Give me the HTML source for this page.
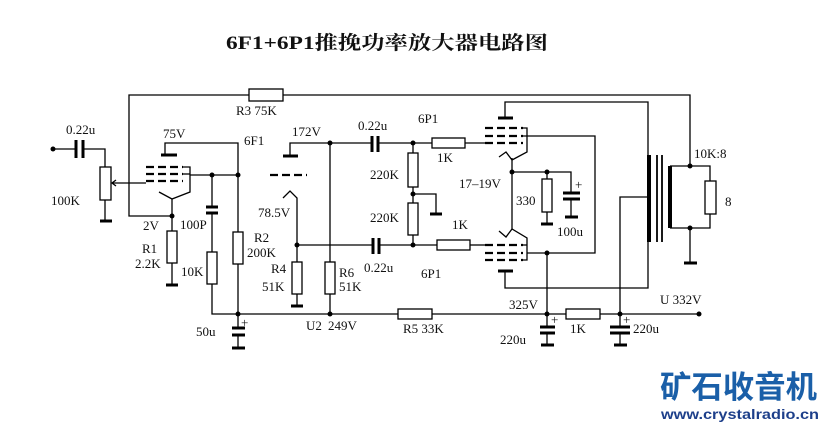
<!DOCTYPE html>
<html><head><meta charset="utf-8"><style>
html,body{margin:0;padding:0;background:#fff;}
svg{display:block;}
text{font-family:"Liberation Serif","Noto Serif CJK SC",serif;font-size:13px;fill:#111;}
</style></head><body>
<svg width="827" height="429" viewBox="0 0 827 429" xmlns="http://www.w3.org/2000/svg">
<rect width="827" height="429" fill="#fff"/>
<text x="226" y="49" style="font-size:19px;font-weight:bold" textLength="322" lengthAdjust="spacingAndGlyphs">6F1+6P1推挽功率放大器电路图</text>
<g stroke="#000" stroke-width="1.3" fill="none">
<polyline points="172,216 129,216 129,95 690,95 690,166"/>
<line x1="53" y1="149" x2="76" y2="149"/><polyline points="83,149 105,149 105,167"/>
<line x1="105" y1="200" x2="105" y2="221"/>
<line x1="112" y1="183" x2="146" y2="183"/><polyline points="116,180 112,183 116,186"/>
<polyline points="165,155 165,143 238,143 238,232"/>
<polyline points="183,167 190,167 190,192 172,199 159,192"/>
<line x1="183" y1="174" x2="190" y2="174"/>
<line x1="190" y1="175" x2="238" y2="175"/>
<line x1="172" y1="199" x2="172" y2="231"/><line x1="172" y1="263" x2="172" y2="285"/>
<line x1="212" y1="175" x2="212" y2="207"/><line x1="212" y1="213" x2="212" y2="252"/>
<polyline points="212,284 212,314 699,314"/>
<line x1="238" y1="264" x2="238" y2="328"/><line x1="238" y1="335" x2="238" y2="348"/>
<polyline points="290,156 290,143 330,143 330,262"/>
<line x1="330" y1="294" x2="330" y2="314"/>
<polyline points="283,198 290,191 297,198 297,262"/>
<line x1="297" y1="294" x2="297" y2="306"/>
<line x1="297" y1="245" x2="373" y2="245"/><line x1="379" y1="245" x2="437" y2="245"/><line x1="470" y1="245" x2="485" y2="245"/>
<line x1="330" y1="143" x2="372" y2="143"/><line x1="378" y1="143" x2="432" y2="143"/><line x1="465" y1="143" x2="485" y2="143"/>
<line x1="413" y1="143" x2="413" y2="153"/><line x1="413" y1="187" x2="413" y2="203"/><line x1="413" y1="235" x2="413" y2="245"/>
<polyline points="413,194 436,194 436,214"/>
<polyline points="505,118 505,102 648,102 648,155"/>
<polyline points="523,128 527,128 527,152 512,160 506,152 499,157"/>
<polyline points="523,136 595,136 595,253 527,253"/>
<line x1="512" y1="158" x2="512" y2="229"/>
<polyline points="512,172 571,172 571,193"/>
<line x1="547" y1="172" x2="547" y2="179"/><line x1="547" y1="212" x2="547" y2="224"/>
<line x1="571" y1="199" x2="571" y2="217"/>
<polyline points="499,231 506,237 512,229 527,238 527,260 523,260"/>
<line x1="527" y1="245" x2="523" y2="245"/>
<polyline points="505,271 505,288 648,288 648,242"/>
<line x1="547" y1="253" x2="547" y2="327"/><line x1="547" y1="333" x2="547" y2="345"/>
<polyline points="649,197 620,197 620,327"/><line x1="620" y1="333" x2="620" y2="345"/>
<polyline points="670,166 710,166 710,181"/><polyline points="710,214 710,228 670,228"/>
<line x1="690" y1="228" x2="690" y2="263"/>
</g>
<g stroke="#000" stroke-width="2.2" stroke-dasharray="8,4">
<line x1="146" y1="167" x2="183" y2="167"/><line x1="146" y1="174" x2="183" y2="174"/><line x1="146" y1="181" x2="183" y2="181"/>
<line x1="270" y1="175" x2="307" y2="175"/>
<line x1="485" y1="128" x2="523" y2="128"/><line x1="485" y1="136" x2="523" y2="136"/><line x1="485" y1="143" x2="523" y2="143"/>
<line x1="485" y1="245" x2="523" y2="245"/><line x1="485" y1="253" x2="523" y2="253"/><line x1="485" y1="260" x2="523" y2="260"/>
</g>
<g stroke="#000" stroke-width="3">
<line x1="161" y1="155" x2="177" y2="155"/><line x1="283" y1="156" x2="298" y2="156"/>
<line x1="498" y1="118" x2="513" y2="118"/><line x1="498" y1="271" x2="513" y2="271"/>
<line x1="100" y1="221" x2="112" y2="221"/><line x1="166" y1="285" x2="178" y2="285"/>
<line x1="232" y1="348" x2="245" y2="348"/><line x1="291" y1="306" x2="303" y2="306"/>
<line x1="430" y1="214" x2="442" y2="214"/><line x1="541" y1="224" x2="553" y2="224"/>
<line x1="565" y1="217" x2="578" y2="217"/><line x1="541" y1="345" x2="554" y2="345"/>
<line x1="614" y1="345" x2="627" y2="345"/><line x1="684" y1="263" x2="697" y2="263"/>
<line x1="76" y1="140" x2="76" y2="158"/><line x1="83" y1="140" x2="83" y2="158"/>
<line x1="206" y1="207" x2="218" y2="207"/><line x1="206" y1="213" x2="218" y2="213"/>
<line x1="232" y1="328" x2="245" y2="328"/><line x1="232" y1="335" x2="245" y2="335"/>
<line x1="372" y1="136" x2="372" y2="152"/><line x1="378" y1="136" x2="378" y2="152"/>
<line x1="373" y1="238" x2="373" y2="254"/><line x1="379" y1="238" x2="379" y2="254"/>
<line x1="563" y1="193" x2="580" y2="193"/><line x1="563" y1="199" x2="580" y2="199"/>
<line x1="540" y1="327" x2="555" y2="327"/><line x1="540" y1="333" x2="555" y2="333"/>
<line x1="610" y1="327" x2="630" y2="327"/><line x1="610" y1="333" x2="630" y2="333"/>
</g>
<g stroke="#000">
<line x1="649" y1="155" x2="649" y2="242" stroke-width="4"/>
<line x1="657" y1="155" x2="657" y2="242" stroke-width="1.8"/>
<line x1="662" y1="155" x2="662" y2="242" stroke-width="1.8"/>
<line x1="670" y1="166" x2="670" y2="228" stroke-width="4"/>
</g>
<g stroke="#000" stroke-width="1.3" fill="#fff">
<rect x="249" y="89" width="34" height="12"/>
<rect x="100" y="167" width="11" height="33"/>
<rect x="167" y="231" width="10" height="32"/>
<rect x="207" y="252" width="10" height="32"/>
<rect x="233" y="232" width="10" height="32"/>
<rect x="292" y="262" width="10" height="32"/>
<rect x="325" y="262" width="10" height="32"/>
<rect x="408" y="153" width="10" height="34"/>
<rect x="408" y="203" width="10" height="32"/>
<rect x="432" y="138" width="33" height="10"/>
<rect x="437" y="240" width="33" height="10"/>
<rect x="542" y="179" width="10" height="33"/>
<rect x="398" y="309" width="34" height="10"/>
<rect x="566" y="309" width="34" height="10"/>
<rect x="705" y="181" width="11" height="33"/>
</g>
<g fill="#000">
<circle cx="53" cy="149" r="2.5"/><circle cx="172" cy="216" r="2.5"/>
<circle cx="212" cy="175" r="2.5"/><circle cx="238" cy="175" r="2.5"/><circle cx="238" cy="314" r="2.5"/>
<circle cx="330" cy="143" r="2.5"/><circle cx="297" cy="245" r="2.5"/><circle cx="330" cy="314" r="2.5"/>
<circle cx="413" cy="143" r="2.5"/><circle cx="413" cy="194" r="2.5"/><circle cx="413" cy="245" r="2.5"/>
<circle cx="512" cy="172" r="2.5"/><circle cx="547" cy="172" r="2.5"/><circle cx="547" cy="253" r="2.5"/>
<circle cx="547" cy="314" r="2.5"/><circle cx="620" cy="314" r="2.5"/><circle cx="699" cy="314" r="2.5"/>
<circle cx="690" cy="166" r="2.5"/><circle cx="690" cy="228" r="2.5"/>
</g>
<g style="font-size:12px">
<text x="66" y="134">0.22u</text><text x="236" y="115">R3 75K</text>
<text x="163" y="138">75V</text><text x="244" y="145">6F1</text><text x="292" y="136">172V</text>
<text x="51" y="205">100K</text><text x="143" y="230">2V</text><text x="180" y="229">100P</text>
<text x="142" y="253">R1</text><text x="135" y="268">2.2K</text><text x="181" y="276">10K</text>
<text x="254" y="242">R2</text><text x="247" y="257">200K</text>
<text x="258" y="217">78.5V</text><text x="271" y="273">R4</text><text x="262" y="291">51K</text>
<text x="339" y="277">R6</text><text x="339" y="291">51K</text>
<text x="196" y="336">50u</text><text x="306" y="330">U2</text><text x="328" y="330">249V</text>
<text x="358" y="130">0.22u</text><text x="418" y="123">6P1</text><text x="437" y="162">1K</text>
<text x="370" y="179">220K</text><text x="370" y="222">220K</text><text x="452" y="229">1K</text>
<text x="364" y="272">0.22u</text><text x="421" y="278">6P1</text>
<text x="459" y="188">17–19V</text><text x="516" y="205">330</text><text x="557" y="236">100u</text>
<text x="509" y="309">325V</text><text x="500" y="344">220u</text><text x="403" y="333">R5 33K</text>
<text x="570" y="333">1K</text><text x="633" y="333">220u</text><text x="660" y="304">U 332V</text>
<text x="694" y="158">10K:8</text><text x="725" y="206">8</text>
</g>
<g style="font-size:7px"><text x="241" y="327">+</text><text x="575" y="189">+</text><text x="551" y="324">+</text><text x="623" y="324">+</text></g>
<text x="660" y="398" style="font-family:'Noto Sans CJK SC',sans-serif;font-size:31px;font-weight:bold;fill:#1a5fa8" textLength="157" lengthAdjust="spacingAndGlyphs">矿石收音机</text>
<text x="661" y="419" style="font-family:'Liberation Sans',sans-serif;font-size:14px;font-weight:bold;fill:#1d3f8a" textLength="158" lengthAdjust="spacingAndGlyphs">www.crystalradio.cn</text>
</svg>
</body></html>
